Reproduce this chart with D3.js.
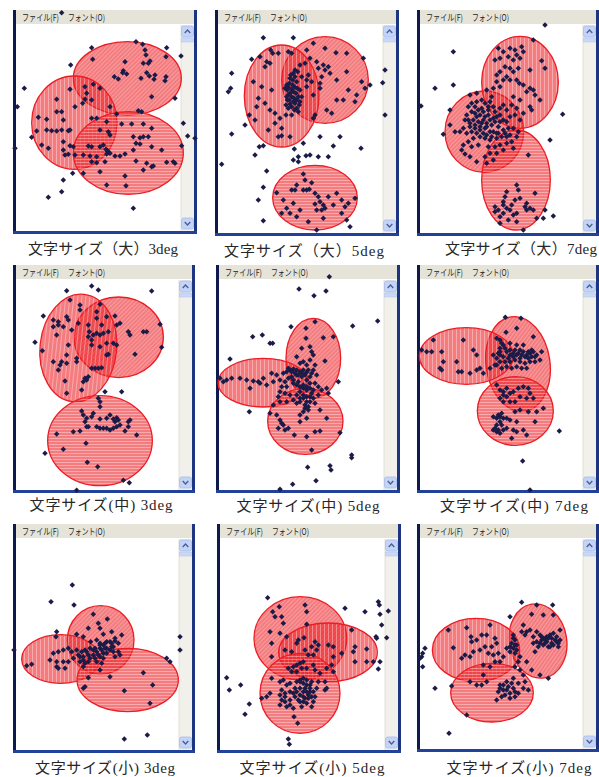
<!DOCTYPE html>
<html><head><meta charset="utf-8">
<script src="https://cdn.jsdelivr.net/npm/d3@7"></script>
<style>body{margin:0;background:#fff}svg{display:block}</style>
</head><body><svg id="c" width="599" height="777"></svg>
<script>
// ---------------- DATA ----------------
const panelLabels = [
  "文字サイズ（大）3deg", "文字サイズ（大）5deg", "文字サイズ（大）7deg",
  "文字サイズ(中) 3deg", "文字サイズ(中) 5deg", "文字サイズ(中) 7deg",
  "文字サイズ(小) 3deg", "文字サイズ(小) 5deg", "文字サイズ(小) 7deg"
];
const menuItems = ["ファイル(F)", "フォント(O)"];
const hatchTypes = ["diag", "vert", "horiz"];

// ellipses: [cx, cy, rx, ry, angle] in screen-capture units, order = hatchTypes
const ellipsesL3 = [[382,235,162,110,0],[223,368,128,140,0],[385,459,165,124,0]];
const ellipsesL5 = [[375,240,130,130,0],[245,288,112,153,0],[345,593,127,97,0]];
const ellipsesL7 = [[253,395,118,122,0],[360,247,115,138,0],[348,540,103,150,0]];
const ellipsesM3 = [[356,247,134,121,0],[235,279,115,162,6],[300,557,157,135,0]];
const ellipsesM5 = [[340,310,82,120,0],[190,383,136,73,0],[316,499,113,99,0]];
const ellipsesM7 = [[354,327,96,143,-8],[199,303,141,85,0],[346,468,114,103,0]];
const ellipsesS3 = [[302,375,100,103,0],[182,432,117,73,0],[383,495,152,95,0]];
const ellipsesS5 = [[301,370,139,125,0],[384,412,148,88,0],[300,535,120,120,0]];
const ellipsesS7 = [[414,378,86,112,-10],[228,405,131,95,0],[276,533,124,88,0]];

// gaze points [x, y] in screen-capture units
const pointsL3 = [[185,38],[275,143],[408,125],[428,133],[500,143],[543,168],[212,195],[278,178],[435,150],[438,165],[375,185],[430,190],[445,190],[450,183],[498,170],[440,218],[370,212],[380,222],[368,218],[343,230],[355,237],[423,235],[448,228],[462,238],[465,225],[498,230],[495,242],[73,265],[210,268],[255,260],[280,253],[300,265],[260,280],[255,298],[275,300],[248,310],[330,320],[455,290],[525,295],[52,320],[170,298],[225,320],[415,332],[425,335],[350,342],[170,335],[185,335],[115,352],[140,358],[190,360],[275,355],[290,355],[320,365],[365,372],[395,372],[430,372],[455,385],[550,370],[140,390],[155,392],[170,393],[205,392],[210,390],[185,390],[110,393],[95,412],[300,390],[325,395],[330,405],[400,410],[420,413],[430,410],[445,410],[563,408],[585,415],[125,435],[145,445],[190,425],[210,437],[220,440],[265,438],[275,440],[300,440],[310,435],[325,455],[330,460],[345,468],[360,468],[375,462],[408,430],[400,450],[420,432],[455,440],[485,450],[545,437],[190,450],[195,465],[205,463],[225,465],[250,465],[270,468],[320,462],[290,470],[408,483],[440,490],[455,500],[460,498],[500,487],[520,485],[525,490],[275,485],[290,488],[315,485],[250,520],[300,515],[430,510],[375,528],[218,520],[190,540],[185,575],[145,592],[320,555],[378,557],[400,625],[45,445],[322,452],[318,448]];
const pointsL5 = [[190,113],[280,113],[212,150],[235,160],[265,155],[275,160],[218,160],[180,170],[155,178],[200,185],[210,190],[195,200],[320,150],[340,130],[375,145],[408,158],[440,160],[490,175],[330,175],[350,185],[370,195],[385,200],[375,210],[355,205],[315,190],[300,195],[285,210],[280,220],[293,215],[305,230],[325,225],[320,240],[335,245],[365,230],[390,220],[410,240],[440,215],[485,245],[510,255],[555,210],[548,248],[95,220],[92,265],[85,275],[160,245],[185,260],[215,270],[270,235],[268,250],[260,255],[255,265],[262,270],[278,255],[285,262],[292,265],[270,280],[275,290],[282,295],[262,300],[258,315],[270,312],[285,310],[298,315],[290,325],[300,305],[305,290],[280,275],[265,285],[360,250],[360,265],[340,285],[320,260],[300,270],[410,300],[445,270],[430,300],[465,305],[470,285],[495,265],[395,340],[380,330],[345,345],[340,355],[175,295],[195,310],[170,320],[148,345],[165,360],[135,375],[210,330],[225,340],[240,355],[258,345],[275,345],[225,370],[245,385],[205,390],[95,402],[235,410],[245,407],[270,410],[178,440],[190,437],[165,465],[283,447],[310,430],[360,410],[400,438],[420,410],[483,445],[330,465],[295,470],[318,467],[280,480],[295,485],[355,470],[385,470],[555,345],[65,493],[200,513],[190,562],[175,600],[190,662],[310,522],[315,540],[290,555],[310,570],[320,570],[275,570],[285,570],[335,548],[328,568],[345,580],[355,590],[360,605],[370,615],[345,612],[350,630],[365,630],[375,625],[385,590],[400,615],[410,580],[425,600],[435,620],[445,610],[465,595],[425,640],[300,630],[280,610],[260,625],[250,600],[230,578],[245,640],[290,650],[325,665],[370,655],[450,680],[350,690],[270,640],[440,660],[272,225],[285,230],[278,240],[290,245],[265,262],[275,268],[288,280],[295,290],[260,290],[268,300],[280,305],[290,300],[275,320],[283,330],[265,325],[295,335]];
const pointsL7 = [[435,75],[160,155],[105,265],[160,255],[63,318],[150,330],[130,403],[295,145],[310,155],[330,145],[345,150],[365,140],[370,155],[400,120],[350,165],[360,175],[340,180],[325,170],[300,175],[285,180],[425,182],[435,205],[390,210],[315,200],[330,205],[340,215],[355,205],[300,215],[290,225],[320,230],[310,240],[290,245],[300,260],[330,240],[350,240],[358,250],[370,255],[390,265],[400,270],[380,275],[405,285],[420,300],[280,265],[260,270],[230,280],[210,285],[275,290],[340,290],[360,300],[335,315],[350,325],[320,330],[310,315],[300,325],[285,335],[265,330],[245,325],[225,320],[215,335],[200,345],[205,360],[220,360],[230,350],[240,345],[255,350],[265,345],[250,360],[235,365],[245,370],[260,370],[270,360],[280,355],[290,350],[300,345],[310,360],[320,365],[330,350],[345,345],[360,360],[370,340],[390,320],[395,330],[488,343],[150,375],[165,395],[180,395],[190,385],[210,380],[225,385],[240,390],[255,385],[275,375],[295,380],[310,390],[325,385],[340,385],[355,395],[350,410],[330,405],[305,410],[290,415],[270,420],[255,415],[240,410],[220,415],[205,425],[190,435],[185,450],[215,440],[235,435],[265,440],[285,440],[300,435],[320,430],[335,425],[340,445],[310,450],[290,460],[270,460],[255,470],[230,485],[210,470],[195,462],[260,490],[280,480],[450,420],[385,465],[350,555],[355,570],[320,575],[315,590],[310,605],[310,615],[320,625],[295,630],[285,635],[330,630],[340,645],[350,640],[375,620],[380,630],[390,625],[400,630],[405,580],[380,610],[435,630],[430,655],[460,648],[300,670],[350,665],[370,690],[410,655],[335,615],[345,600],[360,595],[285,620],[325,660],[300,650],[310,640],[205,320],[215,310],[230,305],[245,300],[255,310],[270,305],[235,330],[250,335],[265,320],[280,320],[225,340],[195,360],[210,370],[225,375],[240,380],[260,380],[280,395],[290,400],[270,395],[250,400],[230,400],[215,395],[200,400],[285,365],[300,365],[295,400],[315,400],[320,410],[275,410],[260,405]];
const pointsM3 = [[200,107],[275,93],[295,105],[455,108],[210,135],[240,150],[240,165],[300,148],[290,170],[130,183],[160,195],[175,200],[200,185],[205,195],[190,215],[160,215],[215,225],[175,210],[235,205],[265,210],[290,190],[305,210],[320,185],[345,183],[350,210],[360,205],[480,208],[268,230],[280,240],[265,245],[275,255],[290,235],[300,240],[310,235],[325,230],[385,230],[390,240],[430,230],[440,230],[170,240],[105,262],[275,270],[300,275],[320,265],[340,265],[350,270],[485,277],[127,287],[205,270],[200,300],[325,298],[320,300],[405,298],[160,320],[185,320],[200,325],[230,320],[180,330],[175,345],[230,310],[275,340],[285,340],[295,340],[305,338],[195,378],[255,370],[260,375],[265,365],[250,380],[245,405],[315,410],[365,410],[200,415],[295,430],[300,440],[300,455],[245,468],[250,480],[260,490],[275,485],[280,475],[300,492],[320,490],[330,480],[340,492],[345,500],[350,488],[355,495],[360,510],[350,515],[340,520],[385,500],[390,495],[385,515],[375,528],[330,525],[320,520],[310,520],[300,520],[290,515],[265,515],[255,500],[260,515],[240,528],[220,530],[170,537],[410,540],[258,565],[135,595],[190,583],[262,622],[293,635],[370,676],[388,683],[230,706]];
const pointsM5 = [[388,65],[297,102],[378,108],[342,122],[273,215],[318,220],[345,200],[458,213],[533,198],[158,245],[187,240],[210,265],[218,265],[370,248],[400,245],[318,250],[330,275],[335,290],[305,280],[340,300],[330,315],[310,320],[290,305],[375,318],[320,330],[345,330],[300,325],[90,312],[60,370],[70,380],[80,375],[95,370],[120,370],[140,375],[160,378],[175,380],[190,370],[180,385],[150,400],[200,390],[220,380],[230,360],[240,375],[215,355],[250,355],[260,350],[270,345],[280,342],[290,345],[300,350],[310,345],[320,352],[340,345],[350,360],[330,365],[320,375],[305,365],[290,360],[275,365],[265,370],[255,380],[245,395],[260,395],[280,385],[295,380],[310,390],[320,395],[330,385],[345,385],[355,395],[365,405],[380,400],[385,415],[415,380],[355,420],[335,415],[320,425],[310,420],[300,410],[290,420],[270,420],[255,415],[240,410],[235,425],[240,440],[260,440],[280,435],[300,440],[315,450],[330,440],[345,445],[325,465],[310,470],[300,480],[320,490],[300,500],[360,465],[380,490],[220,450],[210,475],[230,480],[240,495],[235,520],[245,505],[255,525],[283,540],[320,545],[360,528],[345,530],[420,533],[335,585],[148,470],[455,600],[455,608],[390,632],[393,645],[323,637],[278,688],[348,677],[240,703],[265,520],[250,510],[265,340],[275,350],[285,355],[295,360],[305,355],[315,360],[325,345],[335,355],[280,375],[290,390],[300,395],[310,400],[320,405],[330,400],[340,405],[310,430],[320,440],[300,430],[290,445],[330,425],[340,430],[325,455],[315,460]];
const pointsM7 = [[316,187],[363,190],[350,220],[318,232],[400,245],[300,255],[100,255],[190,255],[220,285],[230,300],[65,285],[80,290],[95,290],[125,290],[130,320],[170,320],[120,340],[125,345],[175,350],[185,350],[210,355],[230,345],[240,340],[250,355],[270,340],[285,330],[280,300],[295,295],[300,280],[310,270],[320,290],[330,300],[340,295],[345,285],[360,285],[370,290],[380,300],[390,295],[400,290],[410,300],[420,315],[405,320],[390,320],[375,325],[360,320],[345,315],[330,320],[315,320],[300,320],[290,330],[305,340],[320,335],[335,340],[350,335],[365,340],[380,340],[290,250],[305,265],[330,265],[350,270],[370,270],[425,290],[290,390],[300,405],[310,420],[320,425],[340,410],[355,400],[370,395],[385,400],[390,415],[400,430],[380,430],[360,425],[345,440],[330,440],[310,440],[300,430],[385,470],[410,470],[430,460],[280,485],[290,490],[300,485],[310,490],[320,490],[330,495],[350,500],[405,500],[280,525],[290,530],[300,535],[310,525],[320,520],[340,525],[350,530],[370,525],[380,540],[335,550],[478,528],[368,618],[390,705],[345,470],[360,465],[295,480],[305,475],[355,295],[365,300],[375,305],[385,310],[395,305],[360,310],[350,300],[340,305],[325,310],[310,305],[300,300],[290,310],[300,290],[315,280],[330,285],[385,290],[395,285],[405,305],[300,500],[290,510],[285,520],[295,525],[305,510],[310,410],[320,400],[330,415]];
const pointsS3 = [[217,210],[153,260],[222,270],[170,350],[168,365],[280,298],[322,312],[295,325],[265,340],[300,340],[310,358],[335,350],[365,360],[230,358],[250,365],[272,380],[290,375],[300,385],[310,390],[320,380],[335,385],[345,378],[355,385],[340,395],[330,405],[315,400],[300,400],[285,400],[270,400],[255,405],[245,410],[230,405],[215,410],[205,400],[190,405],[175,410],[160,415],[150,435],[170,440],[190,440],[205,440],[220,430],[235,420],[250,425],[265,420],[280,420],[295,420],[310,415],[320,415],[340,410],[355,410],[360,420],[345,425],[240,440],[255,445],[265,440],[290,440],[305,445],[250,455],[300,465],[330,485],[265,488],[250,520],[255,515],[80,452],[95,448],[170,455],[175,460],[195,460],[540,365],[540,405],[500,430],[510,440],[430,473],[458,510],[373,527],[450,565],[373,672],[442,660],[42,405],[280,405],[290,410],[305,405],[320,400],[335,395],[300,390],[315,385],[330,380],[345,370],[260,410],[270,430],[285,430],[300,425],[310,430],[250,435],[240,425]];
const pointsS5 = [[203,248],[238,275],[315,270],[320,290],[218,290],[225,305],[245,305],[250,325],[210,350],[240,355],[215,385],[260,365],[320,328],[312,368],[295,375],[290,385],[345,380],[355,390],[335,395],[385,390],[400,395],[315,405],[325,420],[340,420],[350,405],[275,410],[255,405],[400,425],[425,415],[435,280],[495,290],[535,260],[538,270],[540,298],[565,288],[545,330],[528,365],[530,370],[560,368],[500,402],[465,395],[460,410],[455,345],[540,440],[520,440],[500,440],[465,440],[535,462],[310,440],[300,445],[290,450],[280,455],[265,460],[275,470],[290,470],[305,460],[320,460],[340,450],[345,465],[360,475],[380,460],[395,450],[400,470],[215,425],[215,490],[240,500],[250,495],[260,510],[270,505],[290,500],[300,495],[310,490],[320,495],[335,500],[355,500],[350,520],[375,525],[330,520],[315,520],[300,520],[285,520],[270,530],[255,535],[240,540],[245,555],[240,570],[255,560],[270,555],[285,545],[300,540],[310,545],[325,540],[335,545],[310,560],[320,565],[295,555],[305,575],[280,580],[335,575],[210,535],[200,545],[185,550],[245,525],[80,488],[88,525],[122,510],[148,567],[135,598],[282,605],[293,625],[265,672],[268,688],[375,500],[380,520],[300,500],[310,505],[320,510],[330,510],[310,530],[320,530],[330,530],[340,530],[325,550],[315,550],[300,560],[290,530],[280,535],[340,560],[345,545],[255,545],[260,575],[270,570]];
const pointsS7 = [[365,262],[410,270],[458,270],[330,305],[395,298],[430,300],[460,300],[270,330],[200,338],[145,345],[370,330],[380,350],[160,398],[213,365],[215,380],[230,375],[245,360],[260,360],[285,370],[290,385],[275,395],[255,395],[240,405],[220,410],[210,425],[195,420],[185,430],[265,415],[280,420],[295,415],[310,425],[300,440],[285,440],[270,455],[250,450],[340,360],[345,375],[335,385],[350,390],[340,400],[345,415],[360,425],[330,410],[320,400],[355,440],[345,455],[365,350],[375,360],[390,345],[400,365],[410,350],[420,360],[430,370],[440,365],[450,360],[460,355],[470,365],[480,375],[470,380],[455,385],[445,395],[430,390],[420,385],[410,380],[400,385],[415,395],[440,380],[480,345],[475,395],[420,480],[445,490],[405,410],[380,440],[395,465],[360,465],[370,480],[340,490],[320,500],[310,510],[300,520],[320,525],[340,520],[355,535],[345,545],[330,550],[315,540],[295,530],[305,545],[290,555],[355,505],[375,500],[370,520],[250,480],[245,510],[260,500],[230,510],[210,500],[155,513],[105,520],[200,600],[147,655],[75,400],[68,415],[65,425],[60,430],[68,455],[385,525],[425,365],[435,375],[445,370],[455,370],[465,375],[475,385],[450,395],[435,385],[425,375],[460,390],[340,370],[345,390],[350,405],[330,395],[300,510],[310,525],[330,535],[345,530],[325,515],[335,505]];

const panelEllipses = [ellipsesL3, ellipsesL5, ellipsesL7, ellipsesM3, ellipsesM5, ellipsesM7, ellipsesS3, ellipsesS5, ellipsesS7];
const panelPoints = [pointsL3, pointsL5, pointsL7, pointsM3, pointsM5, pointsM7, pointsS3, pointsS5, pointsS7];

// ---------------- LAYOUT ----------------
const origins = [[0,0],[200,0],[400,0],[0,255],[200,255],[400,255],[0,515],[200,515],[400,515]];
const frames = [
  [13,10,184,224],[215,10,184,226],[417,10,182,226],
  [13,265,182,228],[216,265,184,228],[417,265,182,228],
  [13,524,182,229],[217,524,184,229],[417,524,182,228]
];
const labelPos = [[103,254,150],[304,256,160],[521,254,152],[101,510,143],[308,511,143],[514,511,148],[105,773,140],[312,773,145],[519,773,145]];

const svg = d3.select("#c");
const defs = svg.append("defs");
function hatch(id, w, h, x1, y1, x2, y2, rot, op) {
  const p = defs.append("pattern").attr("id", id).attr("patternUnits", "userSpaceOnUse")
    .attr("width", w).attr("height", h);
  if (rot) p.attr("patternTransform", `rotate(${rot})`);
  p.append("line").attr("x1", x1).attr("y1", y1).attr("x2", x2).attr("y2", y2)
    .attr("stroke", "#fff").attr("stroke-opacity", op).attr("stroke-width", 1);
}
hatch("h-diag", 3, 3, 0.5, 0, 0.5, 3, 45, 0.25);
hatch("h-vert", 4, 4, 0.5, 0, 0.5, 4, 0, 0.35);
hatch("h-horiz", 4, 3, 0, 0.5, 4, 0.5, 0, 0.35);

const sx = d3.scaleLinear().domain([0, 600]).range([0, 200]);
const sy = d3.scaleLinear().domain([0, 600]).range([0, 200]);
const sr = d3.scaleLinear().domain([0, 3]).range([0, 1]);

const MENU_FONT = "'Noto Sans CJK JP', sans-serif";

frames.forEach((f, i) => {
  const [fx, fy, fw, fh] = f;
  const g = svg.append("g");
  g.append("rect").attr("x", fx).attr("y", fy).attr("width", fw).attr("height", fh).attr("fill", "#fff");
  g.append("rect").attr("x", fx).attr("y", fy).attr("width", fw).attr("height", 14).attr("fill", "#e6e4d8");
  g.append("text").attr("x", fx + 9).attr("y", fy + 10.5).attr("font-family", MENU_FONT)
    .attr("font-size", 9).attr("fill", "#222").attr("textLength", 37).attr("lengthAdjust", "spacingAndGlyphs")
    .text(menuItems[0]);
  g.append("text").attr("x", fx + 55).attr("y", fy + 10.5).attr("font-family", MENU_FONT)
    .attr("font-size", 9).attr("fill", "#222").attr("textLength", 37).attr("lengthAdjust", "spacingAndGlyphs")
    .text(menuItems[1]);
  const sbx = fx + fw - 16, sbw = 13;
  g.append("rect").attr("x", sbx).attr("y", fy + 15).attr("width", sbw).attr("height", fh - 18).attr("fill", "#f1f0ea");
  g.append("line").attr("x1", sbx).attr("x2", sbx).attr("y1", fy + 15).attr("y2", fy + fh - 3).attr("stroke", "#e2e0d6");
  const btn = (by, up) => {
    g.append("rect").attr("x", sbx + 0.5).attr("y", by).attr("width", sbw - 1).attr("height", 11).attr("rx", 2)
      .attr("fill", "#c4d3f8").attr("stroke", "#aabde8").attr("stroke-width", 0.8);
    const cx = sbx + sbw / 2, cy = by + 5.5, d = up ? -1 : 1;
    g.append("path").attr("d", `M${cx-2.8},${cy-1.4*d}L${cx},${cy+1.4*d}L${cx+2.8},${cy-1.4*d}`)
      .attr("fill", "none").attr("stroke", "#4a5f8e").attr("stroke-width", 1.4);
  };
  btn(fy + 16, true);
  g.append("rect").attr("x", sbx + 0.5).attr("y", fy + 28).attr("width", sbw - 1).attr("height", 4)
    .attr("fill", "#cad8f8").attr("stroke", "#b5c6ec").attr("stroke-width", 0.6);
  btn(fy + fh - 16, false);
  g.append("rect").attr("x", fx).attr("y", fy).attr("width", 3).attr("height", fh).attr("fill", "#0e1a4e");
  g.append("rect").attr("x", fx + fw - 3).attr("y", fy).attr("width", 3).attr("height", fh).attr("fill", "#1c3580");
  g.append("rect").attr("x", fx).attr("y", fy + fh - 3).attr("width", fw).attr("height", 3).attr("fill", "#21419a");

  const [ox, oy] = origins[i];
  const dg = svg.append("g").attr("transform", `translate(${ox},${oy})`);
  panelEllipses[i].forEach((e, k) => {
    const [cx, cy, rx, ry, a] = e;
    const t = `rotate(${a},${sx(cx)},${sy(cy)})`;
    dg.append("ellipse").attr("cx", sx(cx)).attr("cy", sy(cy)).attr("rx", sr(rx)).attr("ry", sr(ry))
      .attr("transform", t).attr("fill", "rgb(236,30,34)").attr("fill-opacity", 0.58);
    dg.append("ellipse").attr("cx", sx(cx)).attr("cy", sy(cy)).attr("rx", sr(rx)).attr("ry", sr(ry))
      .attr("transform", t).attr("fill", `url(#h-${hatchTypes[k]})`)
      .attr("stroke", "#ec1c24").attr("stroke-width", 1.3);
  });
  const sym = d3.symbol().type(d3.symbolSquare).size(15);
  dg.selectAll("path.pt").data(panelPoints[i]).join("path").attr("class", "pt")
    .attr("d", sym).attr("fill", "#1b1b48")
    .attr("transform", d => `translate(${sx(d[0])},${sy(d[1])}) rotate(45)`);

  const [lx, ly, lw] = labelPos[i];
  svg.append("text").attr("x", lx).attr("y", ly).attr("text-anchor", "middle")
    .attr("font-family", "'Liberation Serif', 'Noto Sans CJK JP', serif").attr("font-size", 15)
    .attr("fill", "#262626").attr("textLength", lw).attr("lengthAdjust", "spacing")
    .text(panelLabels[i]);
});
</script>
</body></html>
